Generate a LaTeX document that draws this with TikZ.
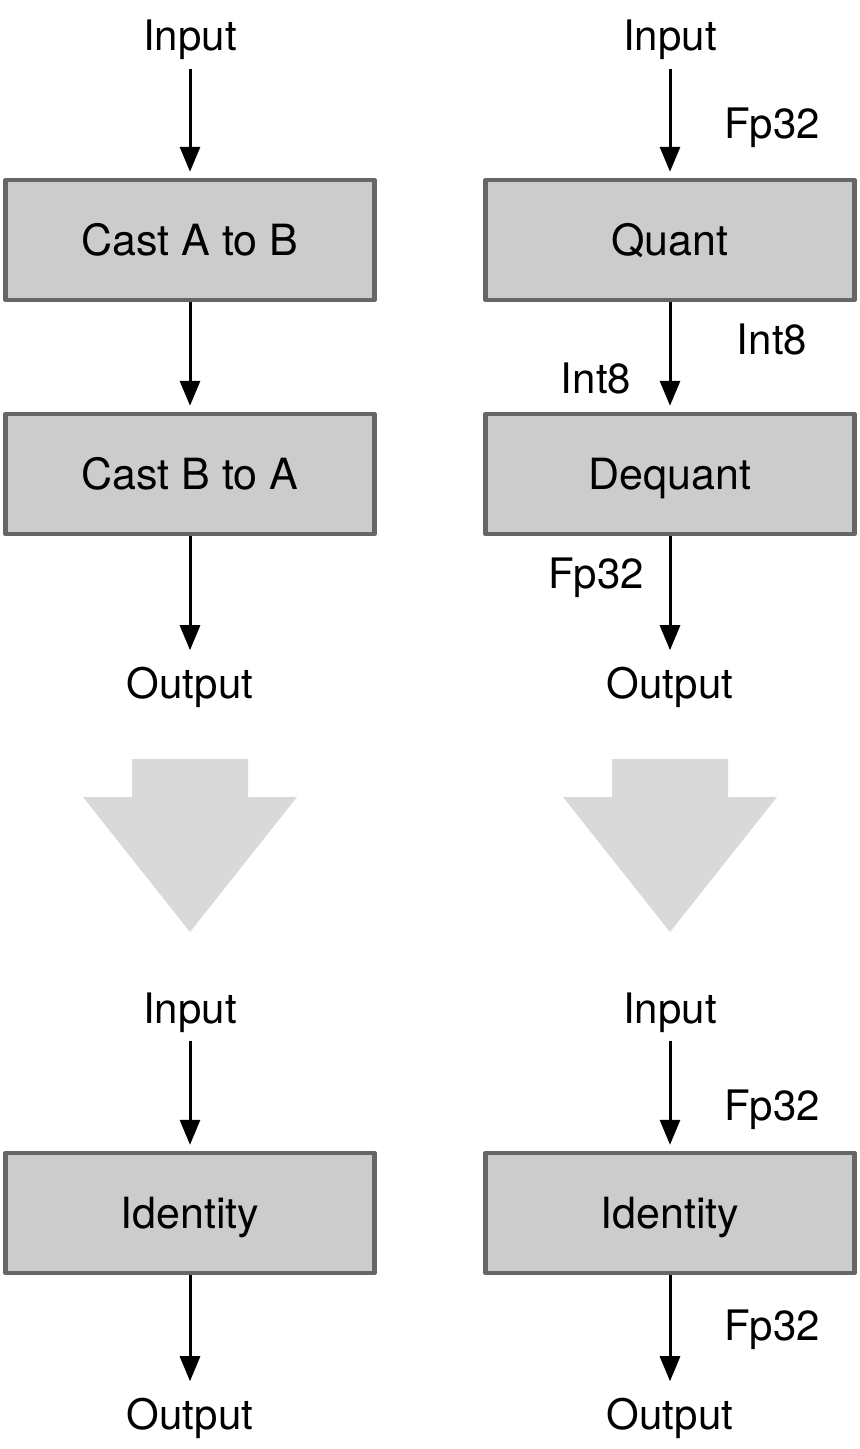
\documentclass[tikz,border=0pt]{standalone}
\usepackage{fontspec}
\setmainfont{TeX Gyre Heros}
\usetikzlibrary{arrows.meta}
\begin{document}
\begin{tikzpicture}[x=0.5pt,y=-0.5pt,line join=round]
			\definecolor{boxgray}{RGB}{204,204,204}
			\definecolor{edgegray}{RGB}{102,102,102}
			\definecolor{bigarrowgray}{RGB}{217,217,217}
			\tikzset{
				opbox/.style={draw=edgegray,fill=boxgray,line width=2.2pt,minimum width=184.5pt,minimum height=60pt,inner sep=0pt,text height=15.4pt,text depth=0pt,font=\fontsize{21.5}{25}\selectfont},
				lbl/.style={anchor=base,inner sep=4pt,font=\fontsize{21}{25}\selectfont},
				flow/.style={-{Triangle[width=10pt,length=12.5pt]},line width=1.5pt,shorten >=3pt},
				bigarrow/.pic={
					\fill[bigarrowgray] (-58,0)--(58,0)--(58,38)--(107,38)--(0,173)--(-107,38)--(-58,38)--cycle;
				}
			}
			\useasboundingbox (0,0) rectangle (860,1449);
			
			%%%%%%%%%%%%%%%%%% left: cast pair
			\node[lbl] (inA) at (190,51) {Input};
			\node[opbox] (castAB) at (190,240) {Cast A to B};
			\node[opbox] (castBA) at (190,474) {Cast B to A};
			\node[lbl] (outA) at (190,698) {Output};
			\draw[flow] (inA.south)--(castAB.north);
			\draw[flow] (castAB.south)--(castBA.north);
			\draw[flow,shorten >=4pt] (castBA.south)--(outA.north);
			
			%%%%%%%%%%%%%%%%%% right: quant pair
			\node[lbl] (inQ) at (670,51) {Input};
			\node[opbox] (quant) at (670,240) {Quant};
			\node[opbox] (dequant) at (670,474) {Dequant};
			\node[lbl] (outQ) at (670,698) {Output};
			\draw[flow] (inQ.south)--(quant.north);
			\draw[flow] (quant.south)--(dequant.north);
			\draw[flow,shorten >=4pt] (dequant.south)--(outQ.north);
			\node[lbl] (fpIn) at (772,139) {Fp32};
			\node[lbl] (intA) at (772,354) {Int8};
			\node[lbl] (intB) at (596,393) {Int8};
			\node[lbl] (fpOut) at (596,588) {Fp32};
			
			%%%%%%%%%%%%%%%%%% big arrows
			\path (190,759) pic{bigarrow};
			\path (670,759) pic{bigarrow};
			
			%%%%%%%%%%%%%%%%%% bottom: identity
			\node[lbl] (inL) at (190,1023) {Input};
			\node[opbox] (idL) at (190,1213) {Identity};
			\node[lbl] (outL) at (190,1429) {Output};
			\draw[flow] (inL.south)--(idL.north);
			\draw[flow,shorten >=4pt] (idL.south)--(outL.north);
			
			\node[lbl] (inR) at (670,1023) {Input};
			\node[opbox] (idR) at (670,1213) {Identity};
			\node[lbl] (outR) at (670,1429) {Output};
			\draw[flow] (inR.south)--(idR.north);
			\draw[flow,shorten >=4pt] (idR.south)--(outR.north);
			\node[lbl] (fpInR) at (772,1120) {Fp32};
			\node[lbl] (fpOutR) at (772,1340) {Fp32};
\end{tikzpicture}
\end{document}
